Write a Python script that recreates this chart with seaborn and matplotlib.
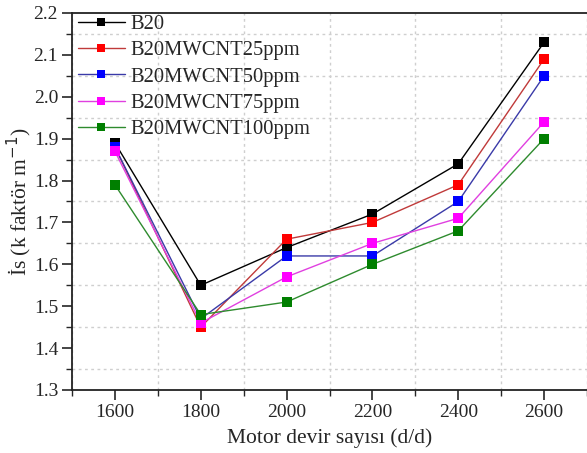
import matplotlib
matplotlib.use("Agg")
import matplotlib.pyplot as plt
import seaborn as sns
import pandas as pd
from matplotlib.ticker import MultipleLocator

rpm = [1600, 1800, 2000, 2200, 2400, 2600]
series_names = ["B20", "B20MWCNT25ppm", "B20MWCNT50ppm", "B20MWCNT75ppm", "B20MWCNT100ppm"]
b20 = [1.89, 1.55, 1.64, 1.72, 1.84, 2.13]
b25 = [1.88, 1.45, 1.66, 1.70, 1.79, 2.09]
b50 = [1.88, 1.47, 1.62, 1.62, 1.75, 2.05]
b75 = [1.87, 1.46, 1.57, 1.65, 1.71, 1.94]
b100 = [1.79, 1.48, 1.51, 1.60, 1.68, 1.90]
marker_colors = ["#000000", "#ff0000", "#0000ff", "#ff00ff", "#007f00"]
line_colors = ["#000000", "#c03a3a", "#3a3aa8", "#e040e0", "#2e8b2e"]

rows = []
for name, vals in zip(series_names, [b20, b25, b50, b75, b100]):
    for x, v in zip(rpm, vals):
        rows.append({"rpm": x, "val": v, "series": name})
df = pd.DataFrame(rows)

sns.set_style("ticks")
plt.rcParams['font.family'] = ['Liberation Serif', 'DejaVu Serif']

fig = plt.figure(figsize=(5.87, 4.53), dpi=100)
ax = fig.add_axes([72/587, 63/453, 1 - 72/587, (390-13)/453])

sns.lineplot(data=df, x="rpm", y="val", hue="series", hue_order=series_names,
             palette=line_colors, marker="s", markersize=6.5, markeredgewidth=0,
             linewidth=1.0, ax=ax, legend=True)
for ln, mc in zip(ax.lines[:5], marker_colors):
    ln.set_markerfacecolor(mc)

ax.set_xlim(1500, 2700)
ax.set_ylim(1.3, 2.2)
ax.xaxis.set_major_locator(MultipleLocator(200))
ax.xaxis.set_minor_locator(MultipleLocator(100))
ax.yaxis.set_major_locator(MultipleLocator(0.1))
ax.yaxis.set_minor_locator(MultipleLocator(0.05))
ax.yaxis.set_major_formatter(matplotlib.ticker.FormatStrFormatter('%.1f'))
ax.tick_params(which='major', direction='out', length=7, width=1.2, labelsize=14, pad=3)
ax.tick_params(which='minor', direction='out', length=4, width=1.0)
ax.grid(which='minor', linestyle=(0, (2, 2.5)), color='#cfcfcf', linewidth=1.0)
ax.grid(which='major', visible=False)
for s in ['left', 'bottom', 'top']:
    ax.spines[s].set_linewidth(1.3)
    ax.spines[s].set_color('#222222')
ax.spines['right'].set_visible(False)

ax.set_xlabel("Motor devir sayısı (d/d)", fontsize=15.5, labelpad=5)
ax.set_ylabel("İs (k faktör m$^{-1}$)", fontsize=15.5, labelpad=0)

leg = ax.legend(loc='upper left', bbox_to_anchor=(-0.005, 1.017), frameon=False, fontsize=14.8,
                handlelength=2.3, handletextpad=0.25, labelspacing=0.33, borderaxespad=0.0)
for h, mc in zip(leg.legend_handles, marker_colors):
    h.set_markerfacecolor(mc)
    h.set_markersize(6)

fig.savefig("out.png", dpi=100)
